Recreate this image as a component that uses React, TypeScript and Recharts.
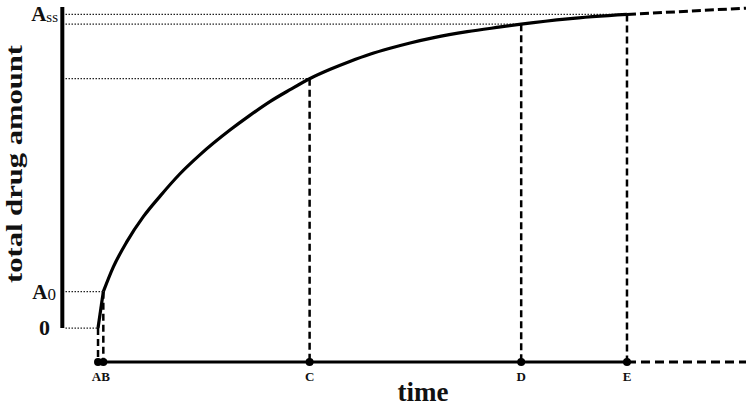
import {
  LineChart,
  Line,
  XAxis,
  YAxis,
  ReferenceLine,
  ReferenceDot,
  Label,
} from "recharts";

// time marks on the horizontal axis
const markTimes = [0, 0.1, 4, 8, 10];
const markNames = ["A", "B", "C", "D", "E"];
// amount reached by the curve at each mark
const markLevels = [0, 11.6, 79.5, 96.9, 100];

// steep first rise A -> B
const riseTimes = [0, 0.1];
const riseAmounts = [0, 11.6];

// accumulation curve B -> E
const curveTimes = [0.1, 0.29, 0.54, 0.86, 1.17, 1.55, 1.93, 2.5, 2.87, 3.25, 3.63, 4.0, 4.39, 4.76, 5.14, 5.52, 5.9, 6.35, 6.98, 7.61, 8.0, 8.88, 10];
const curveAmounts = [11.6, 19.5, 27.4, 35.6, 42.0, 49.2, 55.3, 63.2, 67.8, 72.2, 76.0, 79.5, 82.5, 85.0, 87.3, 89.2, 90.9, 92.6, 94.5, 96.0, 96.9, 98.6, 100];

// dashed continuation after E
const extTimes = [10, 12.25];
const extAmounts = [100, 102];

// y tick labels: main letter + subscript
const yTickValues = [0, 11.6, 100];
const yTickMain = ["0", "A", "A"];
const yTickSub = ["", "0", "ss"];

const AXIS_LEVEL = -10.8;
const AXIS_TOP = 102.4;
const AXIS_X = -0.675;

const FONT = "'Liberation Serif', 'Times New Roman', serif";

const rise = riseTimes.map((t, i) => ({ t, v: riseAmounts[i] }));
const curve = curveTimes.map((t, i) => ({ t, v: curveAmounts[i] }));
const ext = extTimes.map((t, i) => ({ t, v: extAmounts[i] }));

function XTick(props: any) {
  const { x, payload } = props;
  const i = markTimes.indexOf(payload.value);
  const name = markNames[i];
  let anchor = "middle";
  let dx = 0;
  if (name === "A") {
    anchor = "end";
    dx = 3;
  } else if (name === "B") {
    anchor = "start";
    dx = -2;
  }
  return (
    <text
      x={x + dx}
      y={381}
      textAnchor={anchor}
      fontFamily={FONT}
      fontWeight="bold"
      fontSize={13}
      fill="#111"
    >
      {name}
    </text>
  );
}

function YTick(props: any) {
  const { y, payload } = props;
  const i = yTickValues.indexOf(payload.value);
  const main = yTickMain[i];
  const sub = yTickSub[i];
  if (!sub) {
    return (
      <text x={50} y={y + 7} textAnchor="end" fontFamily={FONT} fontWeight="bold" fontSize={22} fill="#111">
        {main}
      </text>
    );
  }
  const right = sub === "ss" ? 58 : 56;
  return (
    <text x={right} y={y + 7} textAnchor="end" fontFamily={FONT} fill="#111">
      <tspan fontWeight="bold" fontSize={21}>
        {main}
      </tspan>
      <tspan fontSize={sub === "ss" ? 15 : 17} dy={1}>
        {sub}
      </tspan>
    </text>
  );
}

export default function App() {
  return (
    <div style={{ position: "absolute", left: 0, top: 0, background: "#fff" }}>
      <LineChart width={751} height={408} margin={{ top: 5, right: 5, left: 0, bottom: 0 }}>
        <XAxis
          type="number"
          dataKey="t"
          domain={[-0.7, 12.25]}
          allowDataOverflow
          ticks={markTimes}
          tick={<XTick />}
          axisLine={false}
          tickLine={false}
          height={36}
          interval={0}
        >
          <Label
            content={() => (
              <text x={423} y={401} textAnchor="middle" fontFamily={FONT} fontWeight="bold" fontSize={27} fill="#111">
                time
              </text>
            )}
          />
        </XAxis>
        <YAxis
          type="number"
          domain={[-14, 103]}
          allowDataOverflow
          ticks={yTickValues}
          tick={<YTick />}
          axisLine={false}
          tickLine={false}
          width={61}
          interval={0}
        >
          <Label
            content={() => (
              <text
                x={22}
                y={164}
                transform="rotate(-90, 22, 164)"
                textAnchor="middle"
                fontFamily={FONT}
                fontWeight="bold"
                fontSize={24}
                textLength={238}
                lengthAdjust="spacingAndGlyphs"
                fill="#111"
              >
                total drug amount
              </text>
            )}
          />
        </YAxis>

        {/* vertical amount axis */}
        <ReferenceLine
          segment={[
            { x: AXIS_X, y: 0 },
            { x: AXIS_X, y: AXIS_TOP },
          ]}
          stroke="#000"
          strokeWidth={4}
          ifOverflow="visible"
        />

        {/* dotted level guides */}
        {markTimes.map((t, i) => (
          <ReferenceLine
            key={"h" + i}
            segment={[
              { x: AXIS_X + 0.06, y: markLevels[i] },
              { x: t, y: markLevels[i] },
            ]}
            stroke="#222"
            strokeWidth={1.3}
            strokeDasharray="1.5 1.5"
            ifOverflow="visible"
          />
        ))}

        {/* dashed drops to time axis */}
        {markTimes.map((t, i) => (
          <ReferenceLine
            key={"v" + i}
            segment={[
              { x: t, y: markLevels[i] },
              { x: t, y: AXIS_LEVEL },
            ]}
            stroke="#000"
            strokeWidth={2.5}
            strokeDasharray="7 4"
            ifOverflow="visible"
          />
        ))}

        {/* time axis */}
        <ReferenceLine
          segment={[
            { x: -0.04, y: AXIS_LEVEL },
            { x: markTimes[4], y: AXIS_LEVEL },
          ]}
          stroke="#000"
          strokeWidth={3}
          ifOverflow="visible"
        />
        <ReferenceLine
          segment={[
            { x: markTimes[4], y: AXIS_LEVEL },
            { x: extTimes[1], y: AXIS_LEVEL },
          ]}
          stroke="#000"
          strokeWidth={3}
          strokeDasharray="9 5"
          ifOverflow="visible"
        />

        <Line data={rise} dataKey="v" type="linear" stroke="#000" strokeWidth={3.2} dot={false} isAnimationActive={false} />
        <Line data={curve} dataKey="v" type="monotone" stroke="#000" strokeWidth={3.2} dot={false} isAnimationActive={false} />
        <Line
          data={ext}
          dataKey="v"
          type="linear"
          stroke="#000"
          strokeWidth={3}
          strokeDasharray="9 4"
          dot={false}
          isAnimationActive={false}
        />

        {markTimes.map((t, i) => (
          <ReferenceDot key={"d" + i} x={t} y={AXIS_LEVEL} r={4} fill="#000" stroke="none" ifOverflow="visible" />
        ))}
      </LineChart>
    </div>
  );
}
